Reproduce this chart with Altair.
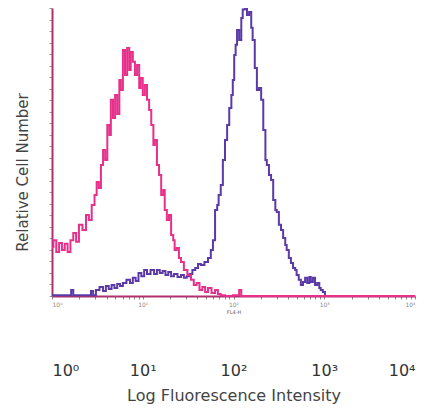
import altair as alt
import pandas as pd

# Histogram channels (256 channels over 4 decades) and relative counts (% of max)
pink_channel = [0, 2, 4, 6, 8, 10, 12, 14, 16, 18, 20, 23, 25, 27, 29, 31, 32, 34, 35, 37,
                38, 40, 41, 42, 44, 45, 47, 48, 49, 51, 52, 54, 55, 56, 58, 59, 61, 62, 63, 65,
                66, 68, 69, 71, 72, 73, 75, 76, 78, 79, 80, 82, 83, 85, 86, 87, 89, 90, 92, 94,
                97, 99, 101, 103, 105, 107, 109, 111, 114, 116, 118, 120, 124, 131, 133, 134, 147, 196, 256]
pink_count = [17.0, 19.4, 15.3, 18.4, 16.0, 18.1, 15.3, 19.4, 21.9, 18.8, 24.7, 22.9, 28.1, 26.4, 31.6, 35.1, 39.6, 37.5, 45.5, 50.7,
              47.2, 59.4, 55.9, 68.1, 61.8, 69.8, 63.2, 75.0, 71.5, 85.4, 76.7, 86.1, 78.5, 84.7, 81.3, 76.7, 80.2, 72.2, 75.7, 69.8,
              73.3, 68.1, 64.6, 59.4, 52.4, 54.2, 45.5, 42.0, 35.1, 36.8, 29.9, 26.4, 28.1, 21.2, 19.4, 16.0, 16.7, 13.2, 11.8, 9.0,
              7.3, 5.6, 3.8, 4.5, 2.1, 3.1, 1.4, 2.8, 1.0, 2.1, 0.7, 0.3, 0.0, 0.3, 2.1, 0.0, 0.0, 0.0, 0.0]

purple_channel = [0, 13, 14, 16, 27, 28, 30, 32, 35, 37, 39, 41, 43, 45, 47, 49, 51, 54, 56, 58,
                  60, 62, 64, 66, 68, 71, 73, 75, 77, 79, 81, 83, 85, 87, 90, 92, 94, 96, 98, 100,
                  102, 104, 106, 109, 111, 113, 114, 116, 117, 118, 120, 121, 123, 124, 126, 127, 128, 129, 130, 131,
                  133, 134, 135, 137, 138, 140, 141, 142, 144, 145, 147, 148, 150, 151, 152, 154, 155, 157, 158, 159,
                  161, 162, 164, 165, 166, 168, 169, 171, 172, 173, 175, 176, 178, 179, 181, 182, 183, 185, 186, 188,
                  189, 190, 192, 193, 203, 256]
purple_count = [0.3, 0.3, 2.1, 0.3, 0.3, 1.7, 0.3, 2.1, 3.1, 1.7, 3.5, 2.4, 3.8, 2.8, 4.2, 3.5, 4.5, 5.6, 4.5, 6.3,
                5.2, 8.0, 6.9, 9.0, 7.6, 9.0, 7.6, 9.0, 8.0, 8.7, 7.3, 8.3, 6.9, 7.6, 6.6, 7.3, 6.3, 6.9, 7.6, 9.0,
                9.7, 11.1, 10.8, 11.8, 13.2, 16.0, 19.4, 29.9, 31.6, 35.1, 38.5, 47.2, 54.2, 59.4, 65.3, 69.8, 75.0, 83.7, 87.2, 92.4,
                88.9, 96.5, 99.5, 100.0, 97.6, 98.6, 93.1, 88.9, 79.2, 71.5, 72.2, 68.1, 57.6, 47.2, 45.5, 42.0, 40.3, 33.3, 29.9, 29.2,
                24.7, 22.9, 20.1, 17.7, 16.0, 13.2, 11.5, 9.7, 9.0, 7.3, 5.6, 3.8, 4.9, 6.3, 4.5, 6.6, 4.9, 6.3, 3.8, 4.5,
                2.8, 2.1, 1.4, 0.0, 0.0, 0.0]

decade_values = [1, 10, 100, 1000, 10000]
decade_labels = ["10⁰", "10¹", "10²", "10³", "10⁴"]
minor_values = [k * 10 ** n for n in range(4) for k in range(1, 10)] + [10000]
y_tick_values = list(range(0, 101, 4))

pink = pd.DataFrame({"channel": pink_channel, "count": pink_count})
pink["intensity"] = 10 ** (pink["channel"] / 64)
purple = pd.DataFrame({"channel": purple_channel, "count": purple_count})
purple["intensity"] = 10 ** (purple["channel"] / 64)

label_expr = " : ".join(
    f"datum.value == {v} ? '{l}'" for v, l in zip(decade_values, decade_labels)
) + " : ''"

xscale = alt.Scale(type="log", domain=[1, 10000], nice=False)
yscale = alt.Scale(domain=[0, 100], nice=False, zero=True)

purple_line = alt.Chart(purple).mark_line(
    interpolate="step", color="#5b3aa8", strokeWidth=2
).encode(
    x=alt.X("intensity:Q", scale=xscale, axis=alt.Axis(
        orient="bottom",
        values=minor_values, labelExpr=label_expr, title="FL4-H",
        domainColor="#b0306e", domainWidth=2, tickColor="#888888", tickSize=3,
        labelFontSize=6, labelColor="#888888", labelPadding=2, labelFont="DejaVu Sans",
        titleFontSize=5, titleColor="#666666", titleFontWeight="normal", titlePadding=2,
        titleFont="DejaVu Sans", grid=False)),
    y=alt.Y("count:Q", scale=yscale, axis=alt.Axis(
        orient="left",
        values=y_tick_values, labels=False, title="Relative Cell Number",
        domainColor="#b0306e", domainWidth=2, tickColor="#999999", tickSize=3,
        titleFont="DejaVu Sans", titleFontSize=15, titleColor="#444444",
        titleFontWeight="normal", titleX=-30, titleY=164, titleBaseline="middle",
        grid=False)),
)

pink_line = alt.Chart(pink).mark_line(
    interpolate="step", color="#e6308c", strokeWidth=2
).encode(
    x=alt.X("intensity:Q", scale=xscale, axis=alt.Axis(
        orient="bottom",
        values=decade_values, labelExpr=label_expr, title="Log Fluorescence Intensity",
        domain=False, ticks=False, offset=66, labelPadding=0,
        labelFont="DejaVu Sans", labelFontSize=16, labelColor="#333333",
        titleFont="DejaVu Sans", titleFontSize=16, titleColor="#444444",
        titleFontWeight="normal", titlePadding=9, grid=False)),
    y=alt.Y("count:Q", scale=yscale, axis=None),
)

chart = alt.layer(purple_line, pink_line).resolve_axis(
    x="independent", y="independent"
).properties(
    width=363, height=288,
    autosize=alt.AutoSizeParams(type="none"),
    padding={"left": 44, "top": 0, "right": 15, "bottom": 110},
).configure(background="white").configure_view(stroke="transparent", strokeWidth=0)

chart.save("out.html", embed_options={"renderer": "svg", "actions": False})
